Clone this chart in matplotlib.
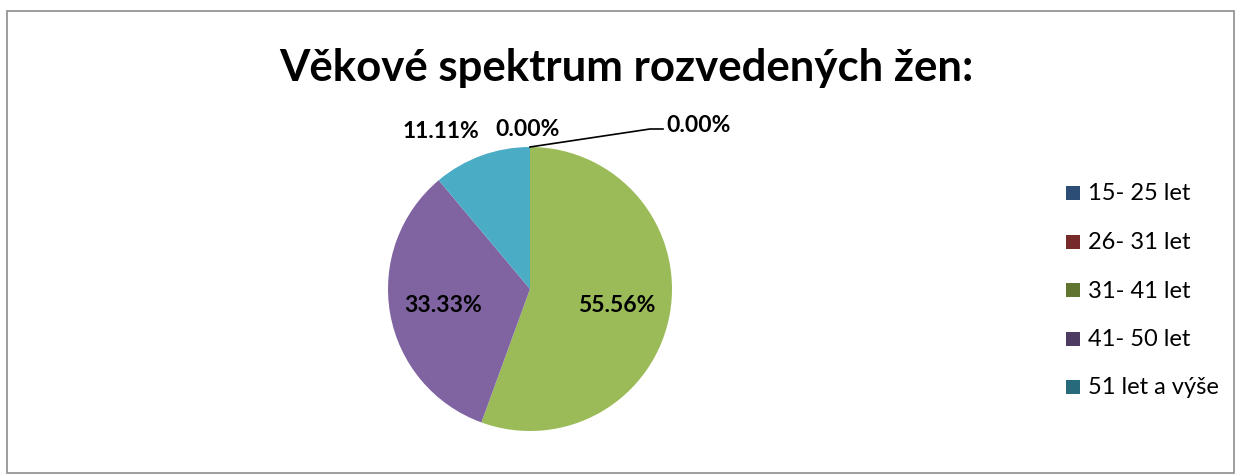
import matplotlib.pyplot as plt
import numpy as np
from matplotlib.patches import Rectangle

# data
categories = ["15- 25 let", "26- 31 let", "31- 41 let", "41- 50 let", "51 let a výše"]
values = [0.00, 0.00, 55.56, 33.33, 11.11]
pie_colors = ["#4F81BD", "#C0504D", "#9BBB59", "#8064A2", "#4BACC6"]
legend_colors = ["#2C4D75", "#772C2A", "#5F7530", "#4D3B62", "#276A7C"]

W, H = 1237, 477
plt.rcParams['font.family'] = ['Lato', 'DejaVu Sans']

fig = plt.figure(figsize=(W / 100, H / 100), dpi=100)
ax = fig.add_axes([0, 0, 1, 1])

# chart frame
ax.add_patch(Rectangle((7, H - 474), 1227, 462, fill=False, edgecolor="#8C8C8C", lw=1.2))

cx, cy, r = 530, H - 290, 142
wedges, _ = ax.pie(values, colors=pie_colors, startangle=90, counterclock=False,
                   center=(cx, cy), radius=r, frame=True,
                   wedgeprops=dict(linewidth=0))
ax.set_xlim(0, W)
ax.set_ylim(0, H)
ax.axis("off")

# inside labels for the two big slices
for w, v in zip(wedges, values):
    if v > 30:
        mid = np.deg2rad((w.theta1 + w.theta2) / 2)
        ax.text(cx + 0.62 * r * np.cos(mid), cy + 0.62 * r * np.sin(mid), f"{v:.2f}%",
                ha="center", va="center", fontsize=16.5, fontweight="bold")

# outside labels
ax.text(441, H - 131, f"{values[4]:.2f}%", ha="center", va="center", fontsize=16.5, fontweight="bold")
ax.text(528, H - 129, f"{values[0]:.2f}%", ha="center", va="center", fontsize=16.5, fontweight="bold")
ax.text(699, H - 126, f"{values[1]:.2f}%", ha="center", va="center", fontsize=16.5, fontweight="bold")
ax.plot([cx, 650, 663], [cy + r, H - 130, H - 130], color="black", lw=1.2)

ax.text(626, H - 68, "Věkové spektrum rozvedených žen:", ha="center", va="center",
        fontsize=31.5, fontweight="bold")

# legend
for i, (lab, c) in enumerate(zip(categories, legend_colors)):
    y = H - (194 + i * 48.5)
    ax.add_patch(Rectangle((1066, y - 7), 14, 14, facecolor=c, edgecolor="none"))
    ax.text(1088, y, lab, ha="left", va="center", fontsize=17)

fig.savefig("out.png", dpi=100)
